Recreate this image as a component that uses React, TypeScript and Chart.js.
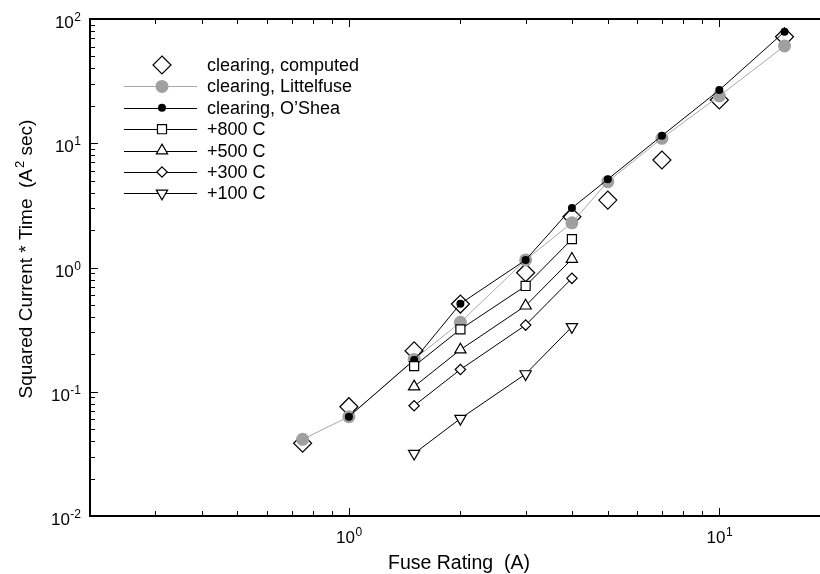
import { useEffect, useRef } from 'react';
import { Chart, registerables } from 'chart.js';
Chart.register(...registerables);

// ---------- data ----------
const ratings = [0.75, 1, 1.5, 2, 3, 4, 5, 7, 10, 15];
const computed = [0.0385, 0.0758, 0.213, 0.508, 0.908, 2.56, 3.49, 7.33, 22.3, 72];
const littelfuse = [0.0414, 0.063, 0.182, 0.362, 1.15, 2.29, 4.91, 10.96, 24, 60.6];
const osheaRatings = [1, 1.5, 2, 3, 4, 5, 7, 10, 15];
const oshea = [0.063, 0.18, 0.511, 1.15, 3.01, 5.13, 11.5, 26.8, 79];
const tempRatings = [1.5, 2, 3, 4];
const plus800 = [0.161, 0.318, 0.71, 1.69];
const plus500 = [0.11, 0.218, 0.492, 1.17];
const plus300 = [0.0772, 0.151, 0.344, 0.818];
const plus100 = [0.0318, 0.0608, 0.139, 0.333];

const seriesLabels = [
  'clearing, computed',
  'clearing, Littelfuse',
  'clearing, O\u2019Shea',
  '+800 C',
  '+500 C',
  '+300 C',
  '+100 C',
];

const xMajorTicks = [1, 10];
const xTickExponents = ['0', '1'];
const yMajorTicks = [0.01, 0.1, 1, 10, 100];
const yTickExponents = ['-2', '-1', '0', '1', '2'];

const xTitle = 'Fuse Rating  (A)';
const yTitleMain = 'Squared Current * Time  (A';
const yTitleSup = '2';
const yTitleEnd = ' sec)';

const FONT = '"Liberation Sans", Arial, Helvetica, sans-serif';

const pts = (xs: number[], ys: number[]) => xs.map((x, i) => ({ x, y: ys[i] }));

function drawMarker(
  ctx: CanvasRenderingContext2D,
  style: string,
  x: number,
  y: number,
  r: number,
  rotation: number,
  fill: string,
  stroke: string,
  lw: number
) {
  ctx.save();
  ctx.beginPath();
  if (style === 'circle') {
    ctx.arc(x, y, r, 0, Math.PI * 2);
  } else if (style === 'rect') {
    const s = Math.SQRT1_2 * r;
    ctx.rect(x - s, y - s, 2 * s, 2 * s);
  } else if (style === 'rectRot') {
    ctx.moveTo(x, y - r);
    ctx.lineTo(x + r, y);
    ctx.lineTo(x, y + r);
    ctx.lineTo(x - r, y);
    ctx.closePath();
  } else if (style === 'triangle') {
    const rad = (rotation * Math.PI) / 180;
    const t = (2 * Math.PI) / 3;
    ctx.moveTo(x + Math.sin(rad) * r, y - Math.cos(rad) * r);
    ctx.lineTo(x + Math.sin(rad + t) * r, y - Math.cos(rad + t) * r);
    ctx.lineTo(x + Math.sin(rad + 2 * t) * r, y - Math.cos(rad + 2 * t) * r);
    ctx.closePath();
  }
  ctx.fillStyle = fill;
  ctx.fill();
  if (lw > 0) {
    ctx.lineWidth = lw;
    ctx.strokeStyle = stroke;
    ctx.stroke();
  }
  ctx.restore();
}

const axesPlugin = {
  id: 'customAxes',
  beforeDatasetsDraw(chart: any) {
    const { ctx, chartArea } = chart;
    const xs = chart.scales.x;
    const ys = chart.scales.y;
    const { left, right, top, bottom } = chartArea;
    ctx.save();
    ctx.strokeStyle = '#000';
    // axis lines
    ctx.lineWidth = 2;
    ctx.beginPath();
    ctx.moveTo(left, top);
    ctx.lineTo(right + 2, top);
    ctx.moveTo(left, top - 1);
    ctx.lineTo(left, bottom + 1);
    ctx.moveTo(left, bottom);
    ctx.lineTo(right + 2, bottom);
    ctx.stroke();

    ctx.lineWidth = 1;
    ctx.beginPath();
    // x ticks (bottom and top, inward)
    for (let e = -1; e <= 1; e++) {
      for (let m = 1; m <= 9; m++) {
        const v = m * Math.pow(10, e);
        if (v < xs.min || v > xs.max) continue;
        const px = Math.round(xs.getPixelForValue(v)) + 0.5;
        const len = m === 1 ? 8 : 5;
        ctx.moveTo(px, bottom);
        ctx.lineTo(px, bottom - len);
        ctx.moveTo(px, top);
        ctx.lineTo(px, top + len);
      }
    }
    // y ticks (left, inward)
    for (let e = -2; e <= 2; e++) {
      for (let m = 1; m <= 9; m++) {
        const v = m * Math.pow(10, e);
        if (v < ys.min * 0.999 || v > ys.max * 1.001) continue;
        const py = Math.round(ys.getPixelForValue(v)) + 0.5;
        const len = m === 1 ? 8 : 5;
        ctx.moveTo(left, py);
        ctx.lineTo(left + len, py);
      }
    }
    ctx.stroke();

    // tick labels
    ctx.fillStyle = '#000';
    const big = `17px ${FONT}`;
    const small = `12px ${FONT}`;
    xMajorTicks.forEach((v, i) => {
      const px = xs.getPixelForValue(v);
      ctx.font = big;
      const w1 = ctx.measureText('10').width;
      ctx.font = small;
      const w2 = ctx.measureText(xTickExponents[i]).width;
      const start = px - (w1 + w2) / 2;
      ctx.textAlign = 'left';
      ctx.textBaseline = 'alphabetic';
      ctx.font = big;
      ctx.fillText('10', start, bottom + 27);
      ctx.font = small;
      ctx.fillText(xTickExponents[i], start + w1 + 0.5, bottom + 20);
    });
    yMajorTicks.forEach((v, i) => {
      const py = ys.getPixelForValue(v);
      ctx.font = small;
      const w2 = ctx.measureText(yTickExponents[i]).width;
      ctx.font = big;
      const w1 = ctx.measureText('10').width;
      const end = left - 9;
      ctx.textAlign = 'left';
      ctx.textBaseline = 'alphabetic';
      ctx.fillText('10', end - w2 - w1 - 0.5, py + 9);
      ctx.font = small;
      ctx.fillText(yTickExponents[i], end - w2, py + 2);
    });

    // x title
    ctx.font = `19.5px ${FONT}`;
    ctx.textAlign = 'left';
    ctx.textBaseline = 'alphabetic';
    ctx.fillText(xTitle, 388, 569);

    // y title (rotated)
    ctx.save();
    ctx.translate(32, (top + bottom) / 2 - 8);
    ctx.rotate(-Math.PI / 2);
    ctx.font = `19px ${FONT}`;
    const a = ctx.measureText(yTitleMain).width;
    const c = ctx.measureText(yTitleEnd).width;
    ctx.font = `13px ${FONT}`;
    const b = ctx.measureText(yTitleSup).width;
    const total = a + b + c;
    let sx = -total / 2;
    ctx.textAlign = 'left';
    ctx.textBaseline = 'alphabetic';
    ctx.font = `19px ${FONT}`;
    ctx.fillText(yTitleMain, sx, 0);
    sx += a;
    ctx.font = `13px ${FONT}`;
    ctx.fillText(yTitleSup, sx + 1, -8);
    sx += b + 1;
    ctx.font = `19px ${FONT}`;
    ctx.fillText(yTitleEnd, sx, 0);
    ctx.restore();

    ctx.restore();
  },
  afterDraw(chart: any) {
    const { ctx } = chart;
    const ds = chart.data.datasets;
    ctx.save();
    const x0 = 124;
    const x1 = 197;
    const mx = 162;
    const tx = 207;
    const y0 = 65;
    const step = 21.4;
    ds.forEach((d: any, i: number) => {
      const y = y0 + i * step;
      if (d.showLine !== false) {
        ctx.beginPath();
        ctx.strokeStyle = d.borderColor;
        ctx.lineWidth = d.borderWidth;
        ctx.moveTo(x0, Math.round(y) + 0.5);
        ctx.lineTo(x1, Math.round(y) + 0.5);
        ctx.stroke();
      }
      drawMarker(
        ctx,
        d.pointStyle,
        mx,
        y,
        d.pointRadius,
        d.pointRotation || 0,
        d.pointBackgroundColor,
        d.pointBorderColor,
        d.pointBorderWidth
      );
      ctx.fillStyle = '#000';
      ctx.font = `18px ${FONT}`;
      ctx.textAlign = 'left';
      ctx.textBaseline = 'middle';
      ctx.fillText(d.label, tx, y + 1);
    });
    ctx.restore();
  },
};

export default function App() {
  const ref = useRef<HTMLCanvasElement | null>(null);
  useEffect(() => {
    if (!ref.current) return;
    const common = { borderWidth: 1, pointHoverRadius: 0, fill: false, tension: 0 };
    const chart = new Chart(ref.current, {
      type: 'line',
      data: {
        datasets: [
          {
            ...common,
            label: seriesLabels[0],
            data: pts(ratings, computed),
            showLine: false,
            borderColor: '#000',
            pointStyle: 'rectRot',
            pointRadius: 9,
            pointBackgroundColor: '#fff',
            pointBorderColor: '#000',
            pointBorderWidth: 1.2,
            order: 3,
          },
          {
            ...common,
            label: seriesLabels[1],
            data: pts(ratings, littelfuse),
            borderColor: '#a8a8a8',
            pointStyle: 'circle',
            pointRadius: 6.5,
            pointBackgroundColor: '#a0a0a0',
            pointBorderColor: '#a0a0a0',
            pointBorderWidth: 0,
            order: 2,
          },
          {
            ...common,
            label: seriesLabels[2],
            data: pts(osheaRatings, oshea),
            borderColor: '#000',
            pointStyle: 'circle',
            pointRadius: 4,
            pointBackgroundColor: '#000',
            pointBorderColor: '#000',
            pointBorderWidth: 0,
            order: 1,
          },
          {
            ...common,
            label: seriesLabels[3],
            data: pts(tempRatings, plus800),
            borderColor: '#000',
            pointStyle: 'rect',
            pointRadius: 6.4,
            pointBackgroundColor: '#fff',
            pointBorderColor: '#000',
            pointBorderWidth: 1.2,
            order: 0,
          },
          {
            ...common,
            label: seriesLabels[4],
            data: pts(tempRatings, plus500),
            borderColor: '#000',
            pointStyle: 'triangle',
            pointRadius: 6.5,
            pointBackgroundColor: '#fff',
            pointBorderColor: '#000',
            pointBorderWidth: 1.2,
            order: 0,
          },
          {
            ...common,
            label: seriesLabels[5],
            data: pts(tempRatings, plus300),
            borderColor: '#000',
            pointStyle: 'rectRot',
            pointRadius: 5.2,
            pointBackgroundColor: '#fff',
            pointBorderColor: '#000',
            pointBorderWidth: 1.2,
            order: 0,
          },
          {
            ...common,
            label: seriesLabels[6],
            data: pts(tempRatings, plus100),
            borderColor: '#000',
            pointStyle: 'triangle',
            pointRotation: 180,
            pointRadius: 6.5,
            pointBackgroundColor: '#fff',
            pointBorderColor: '#000',
            pointBorderWidth: 1.2,
            order: 0,
          },
        ] as any,
      },
      options: {
        animation: false,
        responsive: false,
        devicePixelRatio: 1,
        layout: { autoPadding: false, padding: { left: 90, top: 19, right: 0, bottom: 58 } },
        scales: {
          x: { type: 'logarithmic', min: 0.2, max: 18.7, display: false },
          y: { type: 'logarithmic', min: 0.01, max: 100, display: false },
        },
        plugins: { legend: { display: false }, tooltip: { enabled: false } },
        events: [],
      } as any,
      plugins: [axesPlugin],
    });
    return () => chart.destroy();
  }, []);
  return (
    <div style={{ position: 'absolute', left: 0, top: 0, width: 820, height: 574, background: '#fff' }}>
      <canvas ref={ref} width={820} height={574} style={{ display: 'block', width: 820, height: 574 }} />
    </div>
  );
}
